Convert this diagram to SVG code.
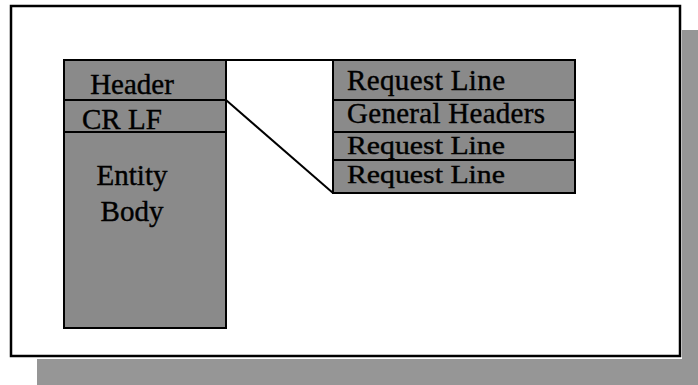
<svg xmlns="http://www.w3.org/2000/svg" width="698" height="385" viewBox="0 0 698 385">
<style>
.cell{fill:#8a8a8a;stroke:#000;stroke-width:2}
.lbl{font-family:"Liberation Serif","Times New Roman",serif;font-size:29px;fill:#000;stroke:#000;stroke-width:0.4}
.sm{font-size:26px}
.con{stroke:#000;stroke-width:2;fill:none}
</style>
<defs>
<linearGradient id="body" x1="0" y1="0" x2="0" y2="1">
<stop offset="0" stop-color="#8a8a8a"/>
<stop offset="0.6" stop-color="#7c7c7c"/>
<stop offset="1" stop-color="#6c6c6c"/>
</linearGradient>
</defs>
<rect width="698" height="385" fill="#fff"/>
<g id="shadow" fill="#969696">
<rect x="682" y="30" width="16" height="355"/>
<rect x="37" y="359" width="661" height="26"/>
</g>
<g id="frame"><rect x="11" y="6" width="669" height="350" fill="#fff" stroke="#000" stroke-width="2.5"/></g>
<g id="connectors">
<line class="con" x1="226" y1="60" x2="333" y2="60"/>
<line class="con" x1="226" y1="100" x2="333" y2="193"/>
</g>
<g id="header"><rect class="cell" x="64" y="60" width="162" height="40"/><text class="lbl" x="132" y="94" text-anchor="middle">Header</text></g>
<g id="crlf"><rect class="cell" x="64" y="100" width="162" height="32"/><text class="lbl" x="82" y="129">CR LF</text></g>
<g id="entity-body"><rect class="cell" x="64" y="132" width="162" height="196" fill="url(#body)"/><text class="lbl" x="132" y="185" text-anchor="middle">Entity</text><text class="lbl" x="132" y="221" text-anchor="middle">Body</text></g>
<g id="request-line-1"><rect class="cell" x="333" y="60" width="242" height="40"/><text class="lbl" x="347" y="90" textLength="158">Request Line</text></g>
<g id="general-headers"><rect class="cell" x="333" y="100" width="242" height="32"/><text class="lbl" x="347" y="123" textLength="198">General Headers</text></g>
<g id="request-line-2"><rect class="cell" x="333" y="132" width="242" height="28"/><text class="lbl sm" x="347" y="154" textLength="158" lengthAdjust="spacingAndGlyphs">Request Line</text></g>
<g id="request-line-3"><rect class="cell" x="333" y="160" width="242" height="33"/><text class="lbl sm" x="347" y="183" textLength="158" lengthAdjust="spacingAndGlyphs">Request Line</text></g>
</svg>
